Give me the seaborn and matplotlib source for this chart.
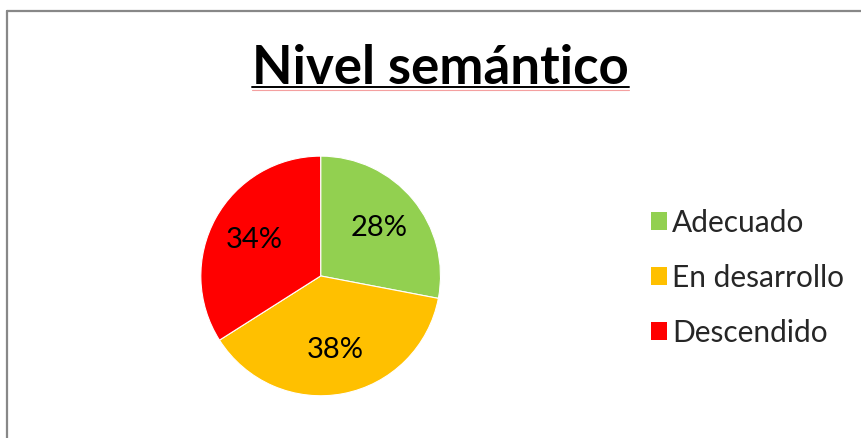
import matplotlib
matplotlib.use("Agg")
import matplotlib.pyplot as plt
from matplotlib.lines import Line2D
from matplotlib.patches import Patch
import seaborn as sns

# data
categories = ["Adecuado", "En desarrollo", "Descendido"]
values = [28, 38, 34]
colors = ["#92D050", "#FFC000", "#FF0000"]
title = "Nivel semántico"

sns.set_theme(style="white")
plt.rcParams["font.family"] = ["Lato", "DejaVu Sans"]

fig = plt.figure(figsize=(8.62, 4.38), dpi=100)
fig.patch.set_facecolor("white")

# pie axes
ax = fig.add_axes([0.233, 0.096, 0.278, 0.548])
wedges, texts = ax.pie(values, colors=colors, startangle=90, counterclock=False,
                       labels=[f"{v}%" for v in values], labeldistance=0.63,
                       textprops={"fontsize": 21, "color": "black", "family": ["Lato", "DejaVu Sans"]},
                       wedgeprops={"linewidth": 0.8, "edgecolor": "white"})
for tx in texts:
    tx.set_ha("center")
    tx.set_va("center")
ax.set_xlim(-1, 1)
ax.set_ylim(-1, 1)

# legend
handles = [Patch(facecolor=c, edgecolor="none", label=l) for c, l in zip(colors, categories)]
fig.legend(handles=handles, loc="center left", bbox_to_anchor=(0.724, 0.366),
           frameon=False, fontsize=21.5, handlelength=0.55, handleheight=0.55,
           handletextpad=0.15, labelspacing=0.9)

# title
t = fig.text(0.511, 0.808, title, ha="center", va="baseline",
             fontsize=38, fontweight="bold", color="black")
fig.canvas.draw()
bb = t.get_window_extent().transformed(fig.transFigure.inverted())
fig.add_artist(Line2D([bb.x0, bb.x1], [0.808 - 0.007, 0.808 - 0.007], color="black", lw=1.4))
fig.add_artist(Line2D([bb.x0, bb.x1], [0.808 - 0.013, 0.808 - 0.013], color="#F4A0A0", lw=0.8))

# chart frame (top and left edges visible)
fig.add_artist(Line2D([0.008, 1.0], [0.976, 0.976], color="#888888", lw=1.6))
fig.add_artist(Line2D([0.008, 0.008], [0.0, 0.976], color="#888888", lw=1.6))

fig.savefig("out.png", dpi=100)
